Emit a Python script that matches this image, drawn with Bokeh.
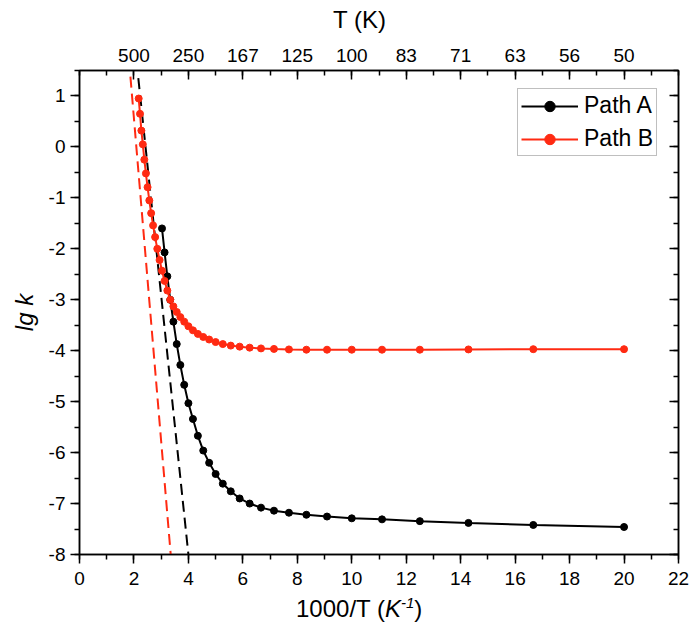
from bokeh.plotting import figure
from bokeh.models import (LinearAxis, FixedTicker, SingleIntervalTicker, Div,
                          Legend, LegendItem, CustomJSTickFormatter, Range1d)
from bokeh.layouts import column
from bokeh.embed import file_html
from bokeh.resources import INLINE

# ---------------- data ----------------
temps_A = [330, 320, 310, 300, 290, 280, 270, 260, 250, 240, 230, 220, 210, 200,
           190, 180, 170, 160, 150, 140, 130, 120, 110, 100, 90, 80, 70, 60, 50]
lgk_A = [-1.60, -2.07, -2.54, -3.00, -3.43, -3.87, -4.28, -4.67, -5.03, -5.34,
         -5.67, -5.96, -6.20, -6.42, -6.61, -6.76, -6.90, -7.00, -7.08, -7.14,
         -7.18, -7.22, -7.255, -7.29, -7.31, -7.345, -7.38, -7.42, -7.46]

temps_B = [460, 450, 440, 430, 420, 410, 400, 390, 380, 370, 360, 350, 340, 330,
           320, 310, 300, 290, 280, 270, 260, 250, 240, 230, 220, 210, 200, 190,
           180, 170, 160, 150, 140, 130, 120, 110, 100, 90, 80, 70, 60, 50]
lgk_B = [0.95, 0.65, 0.32, 0.05, -0.25, -0.52, -0.79, -1.05, -1.30, -1.54, -1.77,
         -2.00, -2.22, -2.43, -2.63, -2.82, -3.00, -3.13, -3.24, -3.34, -3.43,
         -3.52, -3.60, -3.67, -3.73, -3.78, -3.83, -3.87, -3.90, -3.92, -3.94,
         -3.955, -3.965, -3.975, -3.98, -3.98, -3.98, -3.98, -3.98, -3.975,
         -3.97, -3.97]

# Arrhenius (dashed) lines: end points in 1000/T and lg k
fit_A_x = [2.16, 4.00]
fit_A_y = [1.35, -8.00]
fit_B_x = [1.87, 3.35]
fit_B_y = [1.38, -8.00]

top_tick_pos = [2, 4, 6, 8, 10, 12, 14, 16, 18, 20]
top_tick_labels = ["500", "250", "167", "125", "100", "83", "71", "63", "56", "50"]

series_names = ["Path A", "Path B"]
x_title_html = ('1000/T (<i>K</i><span style="position:relative;top:-9px;'
                'font-size:15px;font-style:italic">-1</span>)')
top_title = "T (K)"
y_title = "lg k"

x_A = [1000.0 / t for t in temps_A]
x_B = [1000.0 / t for t in temps_B]

# ---------------- styling ----------------
FONT = "Liberation Sans"
RED = "#ff2a12"
TICK_FS = "19px"
TITLE_FS = "24px"

p = figure(frame_width=599, frame_height=484, width=692, height=559,
           x_range=Range1d(0, 22), y_range=Range1d(-8, 1.5),
           output_backend="svg", toolbar_location=None,
           min_border_left=79, min_border_right=14,
           min_border_top=35, min_border_bottom=40)

p.xgrid.visible = False
p.ygrid.visible = False
p.outline_line_color = "black"
p.outline_line_width = 1.5
p.background_fill_color = "white"
p.border_fill_color = "white"

# bottom axis
xa = p.xaxis[0]
xa.ticker = SingleIntervalTicker(interval=2, num_minor_ticks=2)
# left axis
ya = p.yaxis[0]
ya.ticker = SingleIntervalTicker(interval=1, num_minor_ticks=2)
ya.formatter = CustomJSTickFormatter(code="return tick.toString()")
ya.axis_label = y_title
ya.axis_label_text_font_style = "italic"
ya.axis_label_text_font = FONT
ya.axis_label_text_font_size = TITLE_FS
ya.axis_label_text_color = "black"
ya.axis_label_standoff = 8

for ax in (xa, ya):
    ax.axis_line_color = "black"
    ax.axis_line_width = 1.5
    ax.major_tick_line_color = "black"
    ax.major_tick_line_width = 1.5
    ax.minor_tick_line_color = "black"
    ax.minor_tick_line_width = 1.5
    ax.major_tick_in = 0
    ax.major_tick_out = 9
    ax.minor_tick_in = 0
    ax.minor_tick_out = 5
    ax.major_label_text_font = FONT
    ax.major_label_text_font_size = TICK_FS
    ax.major_label_text_color = "black"
    ax.major_label_standoff = 5
xa.major_label_standoff = 8

# top axis (temperature)
top_ax = LinearAxis(ticker=FixedTicker(ticks=top_tick_pos, minor_ticks=list(range(0, 23))),
                    major_label_overrides={float(k): v for k, v in zip(top_tick_pos, top_tick_labels)})
# right axis (ticks only)
right_ax = LinearAxis(ticker=SingleIntervalTicker(interval=1, num_minor_ticks=2),
                      formatter=CustomJSTickFormatter(code="return ''"))
for ax in (top_ax, right_ax):
    ax.axis_line_color = "black"
    ax.axis_line_width = 1.5
    ax.major_tick_line_color = "black"
    ax.major_tick_line_width = 1.5
    ax.minor_tick_line_color = "black"
    ax.minor_tick_line_width = 1.5
    ax.major_tick_in = 9
    ax.major_tick_out = 0
    ax.minor_tick_in = 5
    ax.minor_tick_out = 0
    ax.major_label_text_font = FONT
    ax.major_label_text_font_size = TICK_FS
    ax.major_label_text_color = "black"
right_ax.major_label_standoff = 0
top_ax.major_label_standoff = 9
p.add_layout(top_ax, "above")
p.add_layout(right_ax, "right")

# ---------------- glyphs ----------------
p.line(fit_B_x, fit_B_y, line_color=RED, line_width=2, line_dash="11 6")
p.line(fit_A_x, fit_A_y, line_color="black", line_width=2, line_dash="11 6")

lA = p.line(x_A, lgk_A, line_color="black", line_width=2)
sA = p.scatter(x_A, lgk_A, size=7, fill_color="black", line_color="black")
lB = p.line(x_B, lgk_B, line_color=RED, line_width=2)
sB = p.scatter(x_B, lgk_B, size=7, fill_color=RED, line_color=RED)

legend = Legend(items=[LegendItem(label=series_names[0], renderers=[lA, sA]),
                       LegendItem(label=series_names[1], renderers=[lB, sB])],
                location=(438, 398))
legend.border_line_color = "#808080"
legend.border_line_width = 1
legend.background_fill_color = "white"
legend.background_fill_alpha = 1.0
legend.label_text_font = FONT
legend.label_text_font_size = "23px"
legend.label_text_color = "black"
legend.glyph_width = 57
legend.glyph_height = 26
legend.label_height = 26
legend.spacing = 6
legend.padding = 3
legend.margin = 0
legend.label_standoff = 6
p.add_layout(legend)

# axis titles drawn as HTML blocks above / below the plot
ttitle = Div(width=692, height=35, margin=0,
             text=('<div style="padding-left:333px;padding-top:5px;font-family:\'Liberation Sans\';'
                   'font-size:24px;line-height:30px;color:black;white-space:nowrap">'
                   + top_title + '</div>'))
xtitle = Div(width=692, height=33, margin=0,
             text=('<div style="padding-left:296px;font-family:\'Liberation Sans\';'
                   'font-size:24px;line-height:30px;color:black;white-space:nowrap">'
                   + x_title_html + '</div>'))

layout = column(ttitle, p, xtitle, spacing=0)
open("out.html", "w").write(file_html(layout, INLINE))
